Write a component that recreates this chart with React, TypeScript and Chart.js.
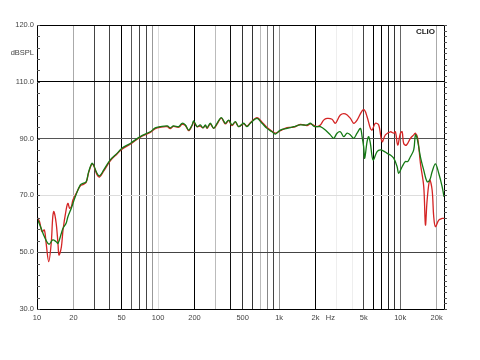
import React, { useEffect, useRef } from "react";
import { Chart, registerables } from "chart.js";
Chart.register(...registerables);

// ---- data ----
const greenFreq = [10, 10.8, 11.5, 12.3, 12.7, 13.5, 14.4, 14.9, 15.9, 16.4, 17.4, 18.0, 19.2, 20.7, 22.8, 24.2, 25.5, 26.7, 28.4, 29.3, 31.3, 32.9, 35.5, 40.3, 45.8, 50.3, 58.9, 71.3, 86.2, 94.8, 104, 119, 126, 134, 148, 158, 168, 179, 191, 197, 210, 223, 235, 246, 254, 270, 288, 307, 333, 359, 383, 408, 435, 463, 509, 543, 578, 657, 722, 794, 874, 930, 1023, 1162, 1318, 1497, 1701, 1811, 1928, 2057, 2190, 2409, 2649, 2821, 3009, 3203, 3413, 3641, 3876, 4128, 4404, 4690, 4843, 4992, 5089, 5326, 5491, 5671, 5970, 6443, 6862, 7305, 7794, 8299, 8838, 9428, 9718, 10368, 11041, 11533, 12143, 12931, 13355, 13795, 14687, 15644, 16689, 17532, 18350, 19541, 20805, 22196, 23000];
const greenDb = [62.0, 58.5, 55.5, 53.1, 52.9, 54.3, 53.7, 53.1, 56.7, 58.4, 60.2, 62.5, 65.5, 69.5, 73.7, 74.3, 74.8, 78.3, 81.3, 80.7, 77.8, 76.9, 78.9, 82.5, 84.8, 86.6, 88.3, 90.7, 92.4, 93.8, 94.2, 94.5, 93.8, 94.5, 94.2, 95.4, 94.8, 93.0, 94.8, 96.2, 94.2, 94.8, 93.8, 94.8, 93.8, 95.4, 93.6, 95.4, 97.4, 95.4, 96.5, 94.8, 96.0, 94.2, 95.4, 94.2, 95.4, 97.1, 95.4, 93.6, 92.4, 91.6, 93.0, 93.6, 94.2, 94.8, 94.8, 95.4, 94.4, 94.2, 94.2, 93.0, 91.3, 90.1, 91.9, 92.4, 90.7, 91.9, 91.3, 90.1, 91.9, 93.6, 90.7, 87.1, 83.1, 88.9, 90.7, 88.3, 82.5, 85.4, 86.0, 85.6, 84.8, 84.2, 83.1, 80.1, 77.8, 80.1, 81.9, 81.9, 83.6, 86.0, 91.3, 90.1, 83.6, 78.9, 74.8, 75.4, 78.3, 81.1, 77.8, 73.1, 69.5];

const redFreq = [10, 10.5, 11.0, 11.5, 11.9, 12.5, 13.1, 13.5, 13.8, 14.4, 14.9, 15.2, 15.9, 16.4, 17.4, 18.0, 18.6, 19.2, 19.8, 21.1, 22.8, 24.2, 25.5, 26.7, 28.4, 29.3, 31.3, 32.9, 35.5, 40.3, 45.8, 50.3, 58.9, 71.3, 86.2, 94.8, 104, 119, 126, 134, 148, 158, 168, 179, 191, 197, 210, 223, 235, 246, 254, 270, 288, 307, 333, 359, 383, 408, 435, 463, 509, 543, 578, 657, 722, 794, 874, 930, 1023, 1162, 1318, 1497, 1701, 1811, 1928, 2057, 2190, 2332, 2488, 2736, 2913, 3203, 3524, 3876, 4128, 4404, 4843, 5059, 5326, 5671, 5858, 6237, 6642, 7087, 7546, 8299, 8838, 9128, 9535, 10039, 10368, 10689, 11250, 12143, 12931, 13355, 13952, 14687, 15644, 16159, 16689, 17532, 18350, 18920, 19541, 20805, 22196, 23000];
const redDb = [62.5, 60.7, 57.2, 57.8, 53.1, 46.7, 53.1, 62.5, 64.3, 60.2, 53.1, 49.0, 51.9, 57.8, 64.9, 67.2, 65.5, 66.0, 68.4, 70.7, 73.4, 73.9, 74.6, 78.0, 81.0, 80.6, 77.3, 76.5, 78.5, 82.2, 84.6, 86.3, 88.0, 90.5, 92.2, 93.5, 94.0, 94.2, 93.5, 94.3, 94.0, 95.0, 94.6, 92.8, 94.6, 95.8, 94.2, 94.4, 93.8, 94.6, 93.6, 95.1, 93.6, 95.1, 97.2, 95.2, 96.3, 94.6, 95.8, 94.2, 95.2, 94.4, 95.6, 97.4, 95.8, 93.9, 92.6, 91.9, 92.8, 93.9, 94.0, 95.0, 94.6, 95.2, 94.7, 94.2, 94.8, 96.5, 97.1, 96.8, 95.4, 98.3, 98.7, 97.1, 95.4, 96.5, 99.8, 100.1, 97.7, 93.6, 93.0, 95.4, 94.8, 88.9, 91.3, 92.4, 91.9, 92.4, 87.7, 91.9, 92.4, 88.3, 87.7, 90.1, 91.3, 91.9, 90.1, 81.3, 73.1, 59.6, 68.4, 75.4, 71.9, 62.5, 59.0, 61.3, 61.9, 61.9];

const gridFreqs = [10, 20, 30, 40, 50, 60, 70, 80, 90, 100, 200, 300, 400, 500, 600, 700, 800, 900, 1000, 2000, 2650, 3000, 4000, 5000, 6000, 7000, 8000, 9000, 10000, 20000];
const xLabelFreqs = [10, 20, 50, 100, 200, 500, 1000, 2000, 2650, 5000, 10000, 20000];
const xLabelTexts = ["10", "20", "50", "100", "200", "500", "1k", "2k", "Hz", "5k", "10k", "20k"];
const yTickValues = [30, 50, 70, 90, 110, 130];
const yTickLabels = ["30.0", "50.0", "70.0", "90.0", "110.0", "120.0"];

// ---- styles ----
const xGridColors: Record<number, string> = {
  10: "#000", 20: "#aaa", 30: "#444", 40: "#444", 50: "#000", 60: "#555", 70: "#444", 80: "#444", 90: "#999",
  100: "#ddd", 200: "#000", 300: "#bbb", 400: "#111", 500: "#333", 600: "#333", 700: "#bbb", 800: "#888",
  900: "#444", 1000: "#999", 2000: "#000", 2650: "rgba(0,0,0,0)", 3000: "#eee", 4000: "#eee", 5000: "#444",
  6000: "#000", 7000: "#000", 8000: "#222", 9000: "#333", 10000: "#666", 20000: "#aaa",
};
const yGridColors: Record<number, string> = { 30: "#000", 50: "#444", 70: "#ddd", 90: "#555", 110: "#000", 130: "#000" };
const FONT = "'Liberation Sans', Arial, sans-serif";
const TEXT = "#444";

const align = (p: number) => Math.round(p) + 0.5;

const decor = {
  id: "decor",
  afterDraw(chart: any) {
    const { ctx, chartArea, scales } = chart;
    const { left, right, top, bottom } = chartArea;
    const y = scales.y;
    ctx.save();
    ctx.strokeStyle = "#000";
    ctx.lineWidth = 1;
    ctx.strokeRect(align(left), align(top), Math.round(right) - Math.round(left), Math.round(bottom) - Math.round(top));
    ctx.strokeStyle = "#555";
    ctx.beginPath();
    for (let v = 30; v <= 130; v += 4) {
      const py = align(y.getPixelForValue(v));
      ctx.moveTo(Math.round(left), py);
      ctx.lineTo(Math.round(left) + 3, py);
    }
    for (let v = 30; v <= 130; v += 2) {
      const py = align(y.getPixelForValue(v));
      ctx.moveTo(Math.round(right), py);
      ctx.lineTo(Math.round(right) + 3, py);
    }
    ctx.stroke();
    ctx.fillStyle = TEXT;
    ctx.font = `7.5px ${FONT}`;
    ctx.textAlign = "right";
    ctx.textBaseline = "middle";
    ctx.fillText("dBSPL", left - 3, y.getPixelForValue(120));
    ctx.fillStyle = "#222";
    ctx.font = `bold 8px ${FONT}`;
    ctx.textBaseline = "alphabetic";
    ctx.fillText("CLIO", right - 9, top + 9);
    ctx.restore();
  },
};

export default function App() {
  const ref = useRef<HTMLCanvasElement>(null);
  useEffect(() => {
    document.body.style.margin = "0";
    const chart = new Chart(ref.current!, {
      type: "line",
      data: {
        datasets: [
          {
            label: "green",
            data: greenFreq.map((f, i) => ({ x: f, y: greenDb[i] })),
            borderColor: "#147a14",
            borderWidth: 1.3,
            pointRadius: 0,
            tension: 0.35,
            order: 0,
          },
          {
            label: "red",
            data: redFreq.map((f, i) => ({ x: f, y: redDb[i] })),
            borderColor: "#d42424",
            borderWidth: 1.3,
            pointRadius: 0,
            tension: 0.35,
            order: 1,
          },
        ],
      },
      options: {
        animation: false,
        responsive: false,
        layout: { padding: { left: 0, top: 25, right: 36, bottom: 31 } },
        plugins: { legend: { display: false }, tooltip: { enabled: false } },
        scales: {
          x: {
            type: "logarithmic",
            min: 10,
            max: 23000,
            afterFit: (s: any) => { s.height = 20; },
            afterBuildTicks: (s: any) => { s.ticks = gridFreqs.map((v) => ({ value: v })); },
            border: { display: false },
            grid: {
              drawTicks: false,
              color: (c: any) => xGridColors[c.tick?.value] ?? "#444",
              lineWidth: 1,
            },
            ticks: {
              autoSkip: false,
              maxRotation: 0,
              padding: 4,
              color: TEXT,
              font: { size: 7.5, family: FONT },
              callback: (v: any) => {
                const i = xLabelFreqs.indexOf(Number(v));
                return i >= 0 ? xLabelTexts[i] : "";
              },
            },
          },
          y: {
            type: "linear",
            min: 30,
            max: 130,
            afterFit: (s: any) => { s.width = 37; },
            afterBuildTicks: (s: any) => { s.ticks = yTickValues.map((v) => ({ value: v })); },
            border: { display: false },
            grid: {
              drawTicks: false,
              color: (c: any) => yGridColors[c.tick?.value] ?? "#444",
              lineWidth: 1,
            },
            ticks: {
              padding: 3,
              color: TEXT,
              font: { size: 7.5, family: FONT },
              callback: (v: any) => {
                const i = yTickValues.indexOf(Number(v));
                return i >= 0 ? yTickLabels[i] : "";
              },
            },
          },
        },
      },
      plugins: [decor],
    });
    return () => chart.destroy();
  }, []);
  return (
    <div style={{ width: 480, height: 360, background: "#fff" }}>
      <canvas ref={ref} width={480} height={360} />
    </div>
  );
}
